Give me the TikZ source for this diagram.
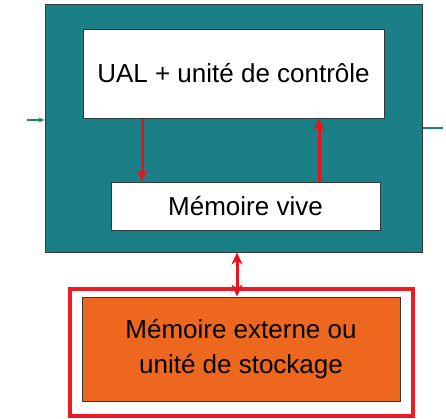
\documentclass[tikz,border=0pt]{standalone}
\usepackage{fontspec}
\setmainfont{Liberation Sans}
\usetikzlibrary{arrows.meta}
\definecolor{cputeal}{HTML}{1B7F87}
\definecolor{boxline}{HTML}{2F3A3C}
\definecolor{extorange}{HTML}{EE671E}
\definecolor{flowred}{HTML}{E8141A}
\definecolor{framered}{HTML}{ED1C24}
\tikzset{
  unit/.style={draw=boxline, line width=1pt, inner sep=0pt},
  cpubox/.style={unit, fill=cputeal},
  whitebox/.style={unit, fill=white, font=\fontsize{26}{35}\selectfont},
  extbox/.style={unit, fill=extorange, align=center, font=\fontsize{26}{35}\selectfont},
  outline/.style={draw=framered, line width=4pt, inner sep=0pt},
  redtip/.style={Stealth[length=12pt,width=11pt]},
  flow/.style={draw=flowred, line width=3pt, -{Stealth[length=12pt,width=11pt]}},
  bothflow/.style={draw=flowred, line width=3pt, {Stealth[length=12pt,width=11pt]}-{Stealth[length=12pt,width=11pt]}},
  ioline/.style={draw=cputeal, line width=1.2pt}
}
\begin{document}
\begin{tikzpicture}[x=1pt,y=-1pt]
\useasboundingbox (0,0) rectangle (446,418);

% processor block
\node[cpubox, minimum width=377pt, minimum height=248pt] (cpu) at (233.5,128) {};
\node[whitebox, minimum width=301pt, minimum height=89pt] (alu) at (233.5,73.5) {UAL + unité de contrôle};
\node[whitebox, minimum width=269pt, minimum height=48pt] (ram) at (245.5,206) {Mémoire vive};

% external storage
\node[outline, minimum width=343pt, minimum height=127pt] (frame) at (241.5,352.5) {};
\node[extbox, minimum width=318pt, minimum height=104pt] (ext) at (241,349) {Mémoire externe ou\\unité de stockage};

% data paths
\coordinate (dnx) at (142,0);
\coordinate (upx) at (319,0);
\coordinate (busx) at (237,0);
\draw[flow] (alu.south -| dnx) -- (ram.north -| dnx);
\draw[flow] (ram.north -| upx) -- (alu.south -| upx);
\draw[bothflow] (cpu.south -| busx) -- (ext.north -| busx);

% input and output lines
\coordinate (inL) at (27,120);
\coordinate (outR) at (443,128);
\draw[ioline, -{Stealth[length=6pt,width=5pt]}] (inL) -- (inL -| cpu.west);
\draw[ioline] (outR -| cpu.east) -- (outR);
\end{tikzpicture}
\end{document}
